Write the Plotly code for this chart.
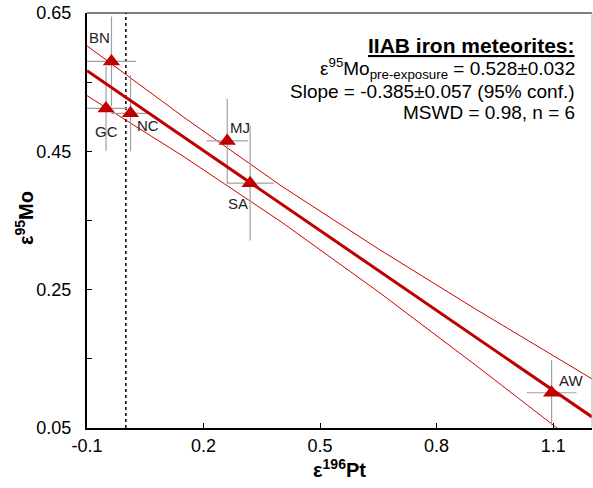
import plotly.graph_objects as go

# ---- data ----
names = ["BN", "GC", "NC", "MJ", "SA", "AW"]
pt = [-0.037, -0.051, 0.012, 0.261, 0.320, 1.096]
pt_err = [0.063, 0.053, 0.050, 0.053, 0.061, 0.064]
mo = [0.580, 0.512, 0.505, 0.465, 0.404, 0.101]
mo_err = [0.065, 0.061, 0.055, 0.061, 0.083, 0.047]

# label positions
lab_x = [-0.069, -0.051, 0.056, 0.294, 0.288, 1.147]
lab_y = [0.614, 0.479, 0.487, 0.485, 0.374, 0.118]

# regression line endpoints
fit_x = [-0.1, 1.2]
fit_y = [0.5665, 0.066]

# 95% confidence envelope (read at several x)
env_x = [-0.1, 0.15, 0.4, 0.65, 0.9, 1.2]
env_up = [0.6025, 0.499, 0.400, 0.309, 0.222, 0.121]
env_lo = [0.5305, 0.442, 0.348, 0.247, 0.141, 0.011]

x_ticks = [-0.1, 0.2, 0.5, 0.8, 1.1]
y_ticks = [0.05, 0.25, 0.45, 0.65]

FONT = "Arial, 'Liberation Sans', sans-serif"
RED = "#C00000"

fig = go.Figure()

# vertical dotted line at x = 0
fig.add_trace(go.Scatter(x=[0, 0], y=[0.05, 0.65], mode="lines",
                         line=dict(color="black", width=1.5, dash="dot"),
                         hoverinfo="skip", showlegend=False))

# envelopes
fig.add_trace(go.Scatter(x=env_x, y=env_up, mode="lines",
                         line=dict(color="#D00000", width=1), showlegend=False))
fig.add_trace(go.Scatter(x=env_x, y=env_lo, mode="lines",
                         line=dict(color="#D00000", width=1), showlegend=False))

# error bars
fig.add_trace(go.Scatter(x=pt, y=mo, mode="markers",
                         marker=dict(size=1, color="rgba(0,0,0,0)"),
                         error_x=dict(type="data", array=pt_err, color="#a0a0a0", thickness=1.2, width=0),
                         error_y=dict(type="data", array=mo_err, color="#a0a0a0", thickness=1.2, width=0),
                         showlegend=False))

# regression line
fig.add_trace(go.Scatter(x=fit_x, y=fit_y, mode="lines",
                         line=dict(color=RED, width=3), showlegend=False))

# markers
fig.add_trace(go.Scatter(x=pt, y=mo, mode="markers",
                         marker=dict(symbol="triangle-up", size=15, color=RED,
                                     line=dict(width=0)),
                         showlegend=False))

# point labels
for n, lx, ly in zip(names, lab_x, lab_y):
    fig.add_annotation(x=lx, y=ly, text=n, showarrow=False,
                       font=dict(family=FONT, size=15, color="#222"),
                       xanchor="center", yanchor="middle")

# legend text block
legend_lines = [
    ("<b><u>IIAB iron meteorites:</u></b>", 21, 45),
    ("ε<sup>95</sup>Mo<sub>pre-exposure</sub> = 0.528±0.032", 19, 69),
    ("Slope = -0.385±0.057 (95% conf.)", 19, 91),
    ("MSWD = 0.98, n = 6", 19, 112),
]
for txt, sz, ypx in legend_lines:
    fig.add_annotation(xref="paper", yref="paper", x=(577 - 87) / 505,
                       y=1 - (ypx - 13) / 415, text=txt, showarrow=False,
                       xanchor="right", yanchor="middle",
                       font=dict(family=FONT, size=sz, color="black"))

# y-axis title as rotated annotation
fig.add_annotation(xref="paper", yref="paper", x=(25 - 87) / 505, y=1 - (218 - 13) / 415,
                   text="<b>ε<sup>95</sup>Mo</b>", textangle=-90, showarrow=False,
                   xanchor="center", yanchor="middle",
                   font=dict(family=FONT, size=20, color="black"))

# top and right borders
fig.add_shape(type="line", xref="paper", yref="paper", x0=0, x1=1, y0=1, y1=1,
              line=dict(color="black", width=1))
fig.add_shape(type="line", xref="paper", yref="paper", x0=1, x1=1, y0=0, y1=1,
              line=dict(color="#b0b0b0", width=1))

fig.update_layout(
    width=593, height=488,
    margin=dict(l=87, r=1, t=13, b=60),
    paper_bgcolor="white", plot_bgcolor="white",
    font=dict(family=FONT, color="black"),
    showlegend=False,
    xaxis=dict(range=[-0.1, 1.2], tickvals=x_ticks, ticktext=["-0.1", "0.2", "0.5", "0.8", "1.1"],
               ticks="inside", ticklen=5, tickcolor="black", showgrid=False, zeroline=False,
               showline=True, linecolor="black", linewidth=2,
               tickfont=dict(size=18, family=FONT),
               title=dict(text="<b>ε<sup>196</sup>Pt</b>", font=dict(size=20, family=FONT), standoff=8)),
    yaxis=dict(range=[0.05, 0.65], tickvals=y_ticks, ticktext=["0.05", "0.25", "0.45", "0.65"],
               ticks="inside", ticklen=5, tickcolor="black", showgrid=False, zeroline=False,
               showline=True, linecolor="black", linewidth=2,
               minor=dict(tickvals=[0.15, 0.35, 0.55], ticks="inside", ticklen=5, tickcolor="black"),
               tickfont=dict(size=18, family=FONT), ticklabelstandoff=10),
)

fig.write_html("out.html")
